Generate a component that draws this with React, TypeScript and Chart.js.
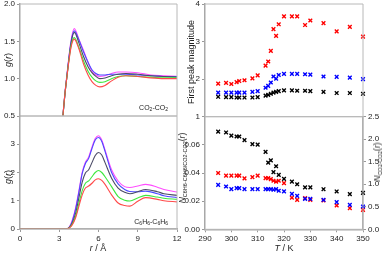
import React, { useEffect, useRef } from 'react';
import { Chart, registerables } from 'chart.js';
Chart.register(...registerables);

// ---------- DATA ----------
const rCO2 = [0, 2.9, 3.5, 3.9, 4.15, 4.5, 4.85, 5.2, 5.5, 5.8, 6.1, 6.5, 7.0, 7.5, 8.1, 9.0, 10.0, 11.0, 12.0];
const co2Red = [0, 0, 0.9, 1.42, 1.53, 1.4, 1.2, 1.05, 0.96, 0.91, 0.89, 0.91, 0.97, 1.02, 1.04, 1.03, 1.01, 1.0, 1.0];
const co2Green = [0, 0, 0.9, 1.44, 1.55, 1.42, 1.24, 1.1, 1.02, 0.97, 0.95, 0.96, 1.0, 1.03, 1.04, 1.03, 1.02, 1.01, 1.01];
const co2Black = [0, 0, 0.9, 1.47, 1.62, 1.48, 1.3, 1.16, 1.08, 1.03, 1.0, 1.01, 1.04, 1.06, 1.07, 1.06, 1.04, 1.03, 1.02];
const co2Blue = [0, 0, 0.9, 1.49, 1.64, 1.52, 1.36, 1.22, 1.12, 1.07, 1.05, 1.05, 1.06, 1.06, 1.06, 1.05, 1.04, 1.03, 1.03];
const co2Magenta = [0, 0, 0.92, 1.51, 1.67, 1.53, 1.38, 1.22, 1.1, 1.05, 1.03, 1.04, 1.07, 1.09, 1.09, 1.08, 1.05, 1.04, 1.03];

const rC6 = [0, 3.5, 3.8, 4.0, 4.25, 4.5, 4.75, 5.0, 5.25, 5.5, 5.75, 6.0, 6.25, 6.5, 7.0, 7.5, 8.0, 8.4, 9.0, 9.6, 10.5, 11.0, 12.0];
const c6Red = [0, 0, 0.05, 0.15, 0.4, 0.8, 1.2, 1.45, 1.52, 1.62, 1.74, 1.78, 1.72, 1.58, 1.21, 0.92, 0.83, 0.81, 0.98, 1.11, 1.05, 1.0, 0.96];
const c6Green = [0, 0, 0.06, 0.18, 0.45, 0.9, 1.35, 1.62, 1.7, 1.85, 2.0, 2.07, 2.0, 1.85, 1.5, 1.15, 1.02, 0.99, 1.1, 1.19, 1.13, 1.09, 1.05];
const c6Black = [0, 0, 0.07, 0.22, 0.55, 1.1, 1.65, 1.98, 2.1, 2.35, 2.6, 2.71, 2.62, 2.35, 1.8, 1.45, 1.3, 1.25, 1.32, 1.4, 1.32, 1.25, 1.19];
const c6Blue = [0, 0, 0.08, 0.28, 0.7, 1.3, 1.95, 2.32, 2.5, 2.85, 3.15, 3.24, 3.1, 2.75, 2.0, 1.6, 1.4, 1.33, 1.32, 1.34, 1.25, 1.18, 1.11];
const c6Magenta = [0, 0, 0.1, 0.32, 0.75, 1.35, 2.0, 2.36, 2.55, 2.9, 3.2, 3.3, 3.15, 2.8, 2.1, 1.7, 1.5, 1.47, 1.52, 1.58, 1.48, 1.4, 1.31];

const temps = [295, 298, 300, 302, 303, 305, 308, 310, 313, 314, 315, 316, 317, 318, 320, 323, 325, 328, 330, 335, 340, 345, 350];
const peakRed = [1.88, 1.9, 1.87, 1.92, 1.95, 1.97, 2.02, 2.1, 2.36, 2.47, 2.75, 3.33, 3.15, 3.46, 3.67, 3.67, 3.67, 3.44, 3.56, 3.49, 3.27, 3.39, 3.13];
const peakBlue = [1.64, 1.64, 1.64, 1.64, 1.64, 1.64, 1.66, 1.68, 1.77, 1.82, 1.91, 2.07, 2.01, 2.11, 2.14, 2.14, 2.14, 2.13, 2.12, 2.07, 2.06, 2.04, 2.0];
const peakBlack = [1.53, 1.52, 1.52, 1.51, 1.51, 1.51, 1.51, 1.52, 1.56, 1.58, 1.61, 1.64, 1.66, 1.68, 1.7, 1.7, 1.69, 1.69, 1.68, 1.66, 1.63, 1.63, 1.61];

const nRed = [0.04, 0.0381, 0.0381, 0.0381, 0.0381, 0.0362, 0.0371, 0.0381, 0.0364, 0.0364, 0.0357, 0.0345, 0.0338, 0.0345, 0.0328, 0.0224, 0.0209, 0.0221, 0.0209, 0.0205, 0.0169, 0.015, 0.0138];
const nBlue = [0.0316, 0.0304, 0.0286, 0.0293, 0.0293, 0.0286, 0.0286, 0.0286, 0.0286, 0.0286, 0.0286, 0.0281, 0.0286, 0.0274, 0.0269, 0.0252, 0.0238, 0.0216, 0.0216, 0.0209, 0.0193, 0.0174, 0.0162];
const nBlackCO2 = [2.17, 2.15, 2.08, 2.06, 2.06, 1.98, 1.89, 1.88, 1.72, 1.48, 1.53, 1.27, 1.4, 1.21, 1.12, 1.06, 1.0, 0.93, 0.93, 0.89, 0.84, 0.78, 0.81];

const rTicks = [0, 3, 6, 9, 12];
const tTicks = [290, 300, 310, 320, 330, 340, 350];

// ---------- STYLE ----------
const W = 410;
const H = 275;
const OFF = 20;
const FONT = 'Liberation Sans, Arial, Helvetica, sans-serif';
const TICK_COLOR = '#222';
const AXIS_COLOR = '#a8a8a8';
const lineColors = ['#ff4a4a', '#3ee83e', '#4a4a66', '#4b4bff', '#ff4dff'];

const boxPlugin = {
  id: 'box',
  afterDraw(chart: any) {
    const { left, top, right, bottom } = chart.chartArea;
    const ctx = chart.ctx;
    ctx.save();
    ctx.strokeStyle = '#b8b8b8';
    ctx.lineWidth = 1;
    ctx.beginPath();
    ctx.moveTo(left, top);
    ctx.lineTo(right, top);
    ctx.lineTo(right, bottom);
    ctx.lineTo(left, bottom);
    ctx.stroke();
    ctx.restore();
  },
};

const pair = (xs: number[], ys: number[]) => xs.map((x, i) => ({ x, y: ys[i] }));

function lineSets(xs: number[], series: number[][]) {
  return series.map((ys, i) => ({
    data: pair(xs, ys),
    borderColor: lineColors[i],
    borderWidth: 1.1,
    pointRadius: 0,
    cubicInterpolationMode: 'monotone' as const,
    fill: false,
  }));
}

function yScale(min: number, max: number, step: number, fmt: (v: number) => string, width: number, extra: any = {}) {
  return {
    type: 'linear',
    min,
    max,
    position: 'left',
    afterFit: (s: any) => { s.width = width; },
    ticks: { stepSize: step, callback: (v: any) => fmt(Number(v)), font: { size: 8, family: FONT }, color: TICK_COLOR, padding: 2, autoSkip: false },
    grid: { display: true, drawOnChartArea: false, drawTicks: true, tickLength: 3, color: '#999' },
    border: { display: true, color: AXIS_COLOR, width: 1.5 },
    ...extra,
  };
}

function xScale(min: number, max: number, ticks: number[] | null) {
  if (!ticks) {
    return { type: 'linear', min, max, display: false };
  }
  return {
    type: 'linear',
    min,
    max,
    afterFit: (s: any) => { s.height = 20; },
    afterBuildTicks: (s: any) => { s.ticks = ticks.map((v) => ({ value: v })); },
    ticks: { callback: (v: any) => String(v), font: { size: 8, family: FONT }, color: TICK_COLOR, padding: 2, maxRotation: 0, autoSkip: false },
    grid: { display: true, drawOnChartArea: false, drawTicks: true, tickLength: 3, color: '#999' },
    border: { display: true, color: AXIS_COLOR, width: 1.5 },
  };
}

// chart area in page coordinates -> padding on the offset canvas
function pad(l: number, t: number, r: number, b: number, lw: number, rw: number, bh: number) {
  return {
    left: l + OFF - lw,
    top: t + OFF,
    right: W - (r + OFF) - rw,
    bottom: H - (b + OFF) - bh,
  };
}

const commonPlugins = { legend: { display: false }, tooltip: { enabled: false } };

function configA() {
  return {
    type: 'line',
    data: { datasets: lineSets(rCO2, [co2Red, co2Green, co2Black, co2Blue, co2Magenta]) },
    options: {
      animation: false, responsive: false,
      layout: { padding: pad(20, 4, 177, 116, 25, 0, 0) },
      plugins: commonPlugins,
      scales: {
        x: xScale(0, 12, null),
        y: yScale(0.5, 2.0, 0.5, (v) => v.toFixed(1), 25),
      },
    },
    plugins: [boxPlugin],
  };
}

function configB() {
  return {
    type: 'line',
    data: { datasets: lineSets(rC6, [c6Red, c6Green, c6Black, c6Blue, c6Magenta]) },
    options: {
      animation: false, responsive: false,
      layout: { padding: pad(20, 116, 177, 229, 25, 0, 20) },
      plugins: commonPlugins,
      scales: {
        x: xScale(0, 12, rTicks),
        y: yScale(0, 4, 1, (v) => (v >= 4 ? '' : String(v)), 25),
      },
    },
    plugins: [boxPlugin],
  };
}

function scatterSet(ys: number[], color: string, axis = 'y') {
  return {
    data: pair(temps, ys),
    borderColor: color,
    backgroundColor: color,
    pointStyle: 'crossRot',
    pointRadius: 2.6,
    borderWidth: 1.4,
    showLine: false,
    clip: 6,
    yAxisID: axis,
  };
}

function configC() {
  return {
    type: 'scatter',
    data: { datasets: [scatterSet(peakBlack, '#000'), scatterSet(peakBlue, '#0000ff'), scatterSet(peakRed, '#ff0000')] },
    options: {
      animation: false, responsive: false,
      layout: { padding: pad(205, 4, 363, 116.7, 25, 0, 0) },
      plugins: commonPlugins,
      scales: {
        x: xScale(290, 350, null),
        y: yScale(1, 4, 1, (v) => String(v), 25),
      },
    },
    plugins: [boxPlugin],
  };
}

function configD() {
  return {
    type: 'scatter',
    data: {
      datasets: [
        scatterSet(nBlackCO2, '#000', 'y2'),
        scatterSet(nBlue, '#0000ff'),
        scatterSet(nRed, '#ff0000'),
      ],
    },
    options: {
      animation: false, responsive: false,
      layout: { padding: pad(205, 116.7, 363, 229.3, 25, 22, 20) },
      plugins: commonPlugins,
      scales: {
        x: xScale(290, 350, tTicks),
        y: yScale(0, 0.08, 0.02, (v) => (v >= 0.079 ? '' : v.toFixed(2)), 25),
        y2: yScale(0, 2.5, 0.5, (v) => v.toFixed(1), 22, { position: 'right' }),
      },
    },
    plugins: [boxPlugin],
  };
}

function Panel({ make }: { make: () => any }) {
  const ref = useRef<HTMLCanvasElement>(null);
  useEffect(() => {
    const chart = new Chart(ref.current as HTMLCanvasElement, make());
    return () => chart.destroy();
  }, []);
  return (
    <canvas
      ref={ref}
      width={W}
      height={H}
      style={{ position: 'absolute', left: -OFF, top: -OFF, width: W, height: H }}
    />
  );
}

const txt: React.CSSProperties = {
  position: 'absolute',
  fontFamily: FONT,
  fontSize: 9,
  color: '#222',
  whiteSpace: 'nowrap',
  lineHeight: 1,
};

function VText({ x, y, children, size = 9 }: { x: number; y: number; children: any; size?: number }) {
  return (
    <div style={{ ...txt, fontSize: size, left: x, top: y, transform: 'translate(-50%, -50%) rotate(-90deg)' }}>
      {children}
    </div>
  );
}

function HText({ x, y, children, size = 9 }: { x: number; y: number; children: any; size?: number }) {
  return (
    <div style={{ ...txt, fontSize: size, left: x, top: y, transform: 'translate(-50%, -50%)' }}>{children}</div>
  );
}

function RText({ right, y, children, size = 7 }: { right: number; y: number; children: any; size?: number }) {
  return (
    <div style={{ ...txt, fontSize: size, right: 390 - right, top: y, transform: 'translateY(-50%)' }}>{children}</div>
  );
}

const Sub = ({ children, size = 5.5 }: { children: any; size?: number }) => (
  <span style={{ fontSize: size, verticalAlign: -1.5 }}>{children}</span>
);

export default function App() {
  return (
    <div style={{ position: 'fixed', left: 0, top: 0, width: 390, height: 255, overflow: 'hidden', background: '#fff' }}>
      <Panel make={configA} />
      <Panel make={configB} />
      <Panel make={configC} />
      <Panel make={configD} />

      <VText x={8} y={60}><i>g</i>(<i>r</i>)</VText>
      <VText x={8} y={177}><i>g</i>(<i>r</i>)</VText>
      <HText x={98} y={248}><i>r</i> / Å</HText>
      <HText x={284} y={248}><i>T</i> / K</HText>
      <VText x={191} y={62}>First peak magnitude</VText>
      <VText x={183} y={168} size={8.5}>
        <i>N</i><Sub>C6H6-C6H6/CO2-CO2</Sub>(<i>r</i>)
      </VText>
      <VText x={378} y={162} size={8.5}>
        <i>N</i><Sub>CO2-CO2</Sub>(<i>r</i>)
      </VText>
      <RText right={168} y={108}>
        CO<Sub size={5}>2</Sub>-CO<Sub size={5}>2</Sub>
      </RText>
      <RText right={168} y={222}>
        C<Sub size={5}>6</Sub>H<Sub size={5}>6</Sub>-C<Sub size={5}>6</Sub>H<Sub size={5}>6</Sub>
      </RText>
    </div>
  );
}
